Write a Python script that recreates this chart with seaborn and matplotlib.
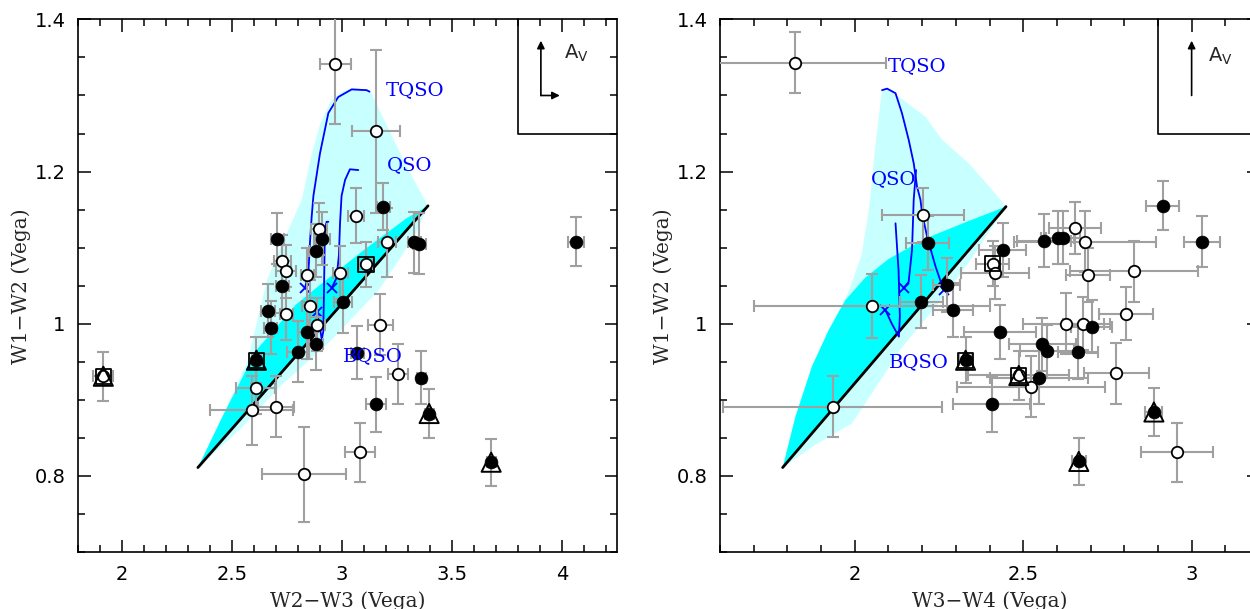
import numpy as np
import pandas as pd
import matplotlib
matplotlib.use("Agg")
import matplotlib.pyplot as plt
import seaborn as sns
from matplotlib.ticker import MultipleLocator, FuncFormatter

# ---------------- data: left panel (W2-W3 vs W1-W2) ----------------
L_open_x = [2.969, 3.155, 3.064, 2.896, 3.205, 2.729, 2.747, 2.842, 2.993, 2.853, 2.747,
            2.887, 3.175, 3.253, 2.607, 2.589, 2.700, 3.082, 2.827, 3.109, 1.915]
L_open_y = [1.341, 1.253, 1.142, 1.125, 1.107, 1.082, 1.069, 1.064, 1.067, 1.023, 1.013,
            0.999, 0.999, 0.934, 0.916, 0.886, 0.891, 0.831, 0.802, 1.078, 0.931]
L_open_xerr = [0.071, 0.109, 0.035, 0.035, 0.040, 0.040, 0.045, 0.030, 0.035, 0.035, 0.030,
               0.035, 0.055, 0.045, 0.090, 0.190, 0.080, 0.070, 0.190, 0.030, 0.045]
L_open_yerr = [0.079, 0.107, 0.036, 0.034, 0.045, 0.035, 0.035, 0.035, 0.035, 0.035, 0.035,
               0.035, 0.040, 0.040, 0.035, 0.045, 0.040, 0.039, 0.062, 0.030, 0.032]

L_fill_x = [3.187, 2.705, 2.909, 2.882, 3.329, 3.351, 4.065, 2.729, 2.664, 2.676, 3.005,
            2.840, 2.882, 2.800, 3.069, 3.360, 3.156, 2.611, 3.396, 3.678]
L_fill_y = [1.154, 1.112, 1.112, 1.096, 1.107, 1.105, 1.108, 1.049, 1.017, 0.995, 1.028,
            0.989, 0.974, 0.963, 0.962, 0.929, 0.894, 0.952, 0.882, 0.818]
L_fill_xerr = [0.030, 0.030, 0.035, 0.030, 0.030, 0.030, 0.036, 0.030, 0.030, 0.030, 0.040,
               0.040, 0.030, 0.050, 0.030, 0.020, 0.045, 0.020, 0.020, 0.020]
L_fill_yerr = [0.031, 0.034, 0.035, 0.035, 0.040, 0.040, 0.032, 0.035, 0.035, 0.035, 0.040,
               0.035, 0.035, 0.040, 0.035, 0.035, 0.036, 0.030, 0.032, 0.031]

L_square_x = [1.915, 2.611, 3.109]
L_square_y = [0.931, 0.952, 1.078]
L_tri_x = [1.915, 2.611, 3.396, 3.678]
L_tri_y = [0.931, 0.952, 0.882, 0.818]

# model tracks (left)
L_tqso_x = [2.832, 2.847, 2.855, 2.862, 2.870, 2.900, 2.938, 2.983, 3.044, 3.112, 3.125]
L_tqso_y = [1.047, 1.066, 1.110, 1.140, 1.168, 1.224, 1.277, 1.298, 1.308, 1.307, 1.305]
L_qso_x = [2.953, 2.975, 2.986, 2.991, 2.998, 3.014, 3.036, 3.074]
L_qso_y = [1.047, 1.060, 1.090, 1.132, 1.168, 1.189, 1.203, 1.202]
L_bqso_x = [2.885, 2.898, 2.908, 2.915, 2.918, 2.921, 2.923, 2.930, 2.938]
L_bqso_y = [1.016, 0.998, 0.979, 0.990, 1.040, 1.100, 1.125, 1.134, 1.134]
L_zero_x = [2.832, 2.953, 2.885]
L_zero_y = [1.047, 1.047, 1.016]

# model envelopes (left)
L_line_x = [2.345, 3.391]
L_line_y = [0.811, 1.155]
L_dark_x = [2.345, 2.46, 2.61, 2.79, 2.87, 3.10, 3.29, 3.391]
L_dark_y = [0.811, 0.880, 0.965, 1.025, 1.044, 1.097, 1.138, 1.155]
L_light_x = [2.345, 2.46, 2.57, 2.66, 2.72, 2.817, 2.86, 2.90, 2.95, 3.00, 3.05, 3.127, 3.286, 3.391]
L_light_y = [0.811, 0.880, 0.950, 1.058, 1.100, 1.163, 1.220, 1.262, 1.293, 1.305, 1.310, 1.307, 1.211, 1.155]
L_low_x = [2.345, 2.54, 2.72, 2.94, 3.17, 3.33, 3.391]
L_low_y = [0.811, 0.862, 0.918, 0.975, 1.045, 1.115, 1.155]

# ---------------- data: right panel (W3-W4 vs W1-W2) ----------------
R_open_x = [1.822, 2.202, 2.653, 2.683, 2.409, 2.416, 2.692, 2.828, 2.050, 2.804, 2.628,
            2.679, 2.776, 2.523, 1.935, 2.956, 2.487]
R_open_y = [1.343, 1.143, 1.126, 1.108, 1.079, 1.067, 1.064, 1.069, 1.023, 1.013, 1.000,
            1.000, 0.935, 0.917, 0.891, 0.831, 0.932]
R_open_xerr = [0.270, 0.122, 0.077, 0.210, 0.050, 0.100, 0.065, 0.190, 0.350, 0.080, 0.130,
               0.060, 0.096, 0.220, 0.325, 0.107, 0.150]
R_open_yerr = [0.040, 0.036, 0.034, 0.040, 0.030, 0.035, 0.035, 0.040, 0.042, 0.035, 0.040,
               0.035, 0.040, 0.040, 0.040, 0.039, 0.032]

R_fill_x = [2.914, 2.561, 2.602, 2.618, 2.216, 2.439, 3.031, 2.273, 2.198, 2.291, 2.432,
            2.703, 2.557, 2.571, 2.662, 2.546, 2.406, 2.329, 2.888, 2.665]
R_fill_y = [1.155, 1.109, 1.113, 1.113, 1.106, 1.097, 1.108, 1.051, 1.029, 1.018, 0.989,
            0.996, 0.973, 0.964, 0.963, 0.929, 0.894, 0.952, 0.884, 0.819]
R_fill_xerr = [0.050, 0.080, 0.050, 0.050, 0.065, 0.070, 0.053, 0.040, 0.065, 0.060, 0.107,
               0.060, 0.100, 0.080, 0.060, 0.146, 0.113, 0.020, 0.025, 0.020]
R_fill_yerr = [0.032, 0.035, 0.035, 0.035, 0.035, 0.035, 0.034, 0.035, 0.035, 0.035, 0.035,
               0.035, 0.035, 0.035, 0.035, 0.035, 0.036, 0.030, 0.032, 0.031]

R_square_x = [2.487, 2.329, 2.409]
R_square_y = [0.932, 0.952, 1.079]
R_tri_x = [2.487, 2.329, 2.888, 2.665]
R_tri_y = [0.932, 0.952, 0.884, 0.819]

R_tqso_x = [2.264, 2.240, 2.215, 2.200, 2.195, 2.185, 2.175, 2.160, 2.140, 2.121, 2.096, 2.081]
R_tqso_y = [1.044, 1.075, 1.114, 1.145, 1.163, 1.180, 1.211, 1.242, 1.277, 1.303, 1.309, 1.307]
R_qso_x = [2.145, 2.160, 2.170, 2.175, 2.182]
R_qso_y = [1.047, 1.055, 1.097, 1.163, 1.202]
R_bqso_x = [2.091, 2.110, 2.131, 2.134, 2.130, 2.121]
R_bqso_y = [1.018, 1.000, 0.983, 1.010, 1.070, 1.132]
R_zero_x = [2.264, 2.145, 2.091]
R_zero_y = [1.044, 1.047, 1.018]

R_line_x = [1.786, 2.449]
R_line_y = [0.811, 1.154]
R_dark_x = [1.786, 1.824, 1.873, 1.923, 1.972, 2.03, 2.10, 2.21, 2.338, 2.449]
R_dark_y = [0.811, 0.878, 0.944, 0.992, 1.031, 1.060, 1.085, 1.112, 1.135, 1.154]
R_light_x = [1.786, 1.824, 1.873, 1.923, 1.98, 2.02, 2.042, 2.061, 2.081, 2.096, 2.21, 2.259, 2.338, 2.40, 2.449]
R_light_y = [0.811, 0.878, 0.944, 0.992, 1.040, 1.090, 1.150, 1.233, 1.308, 1.310, 1.272, 1.242, 1.211, 1.180, 1.154]
R_low_x = [1.786, 1.88, 1.992, 2.071, 2.137, 2.232, 2.338, 2.449]
R_low_y = [0.811, 0.840, 0.869, 0.922, 0.967, 1.018, 1.080, 1.154]

# ---------------- style ----------------
sns.set_style("ticks")
plt.rcParams['font.family'] = ['DejaVu Sans']
plt.rcParams['mathtext.fontset'] = 'dejavusans'

DARK = '#00ffff'
LIGHT = '#c8ffff'
ERR = '#a0a0a0'
SERIF = ['DejaVu Serif']

fig = plt.figure(figsize=(12.5, 6.09), dpi=100)
axL = fig.add_axes([78 / 1250, 57 / 609, 539 / 1250, 532.6 / 609])
axR = fig.add_axes([720 / 1250, 57 / 609, 539 / 1250, 532.6 / 609])


def panel(ax, d, xlim, xlabel, labels, av):
    ax.fill(d['light_x'] + d['line_x'][::-1], d['light_y'] + d['line_y'][::-1],
            color=LIGHT, lw=0, zorder=1)
    ax.fill(d['low_x'] + d['line_x'][::-1], d['low_y'] + d['line_y'][::-1],
            color=LIGHT, lw=0, zorder=1)
    ax.fill(d['dark_x'] + d['line_x'][::-1], d['dark_y'] + d['line_y'][::-1],
            color=DARK, lw=0, zorder=1.5)
    sns.lineplot(x=d['line_x'], y=d['line_y'], ax=ax, color='black', lw=2.0,
                 sort=False, zorder=2)
    for k in ('tqso', 'qso', 'bqso'):
        ax.plot(d[k + '_x'], d[k + '_y'], color='blue', lw=1.3, zorder=3)
    ax.plot(d['zero_x'], d['zero_y'], ls='none', marker='x', color='blue',
            ms=7, mew=1.3, zorder=3)

    ax.errorbar(d['open_x'], d['open_y'], xerr=d['open_xerr'], yerr=d['open_yerr'],
                fmt='none', ecolor=ERR, elinewidth=1.5, capsize=4, capthick=1.5, zorder=4)
    ax.errorbar(d['fill_x'], d['fill_y'], xerr=d['fill_xerr'], yerr=d['fill_yerr'],
                fmt='none', ecolor=ERR, elinewidth=1.5, capsize=4, capthick=1.5, zorder=4)

    dfo = pd.DataFrame({'x': d['open_x'], 'y': d['open_y']})
    dff = pd.DataFrame({'x': d['fill_x'], 'y': d['fill_y']})
    sns.scatterplot(data=dfo, x='x', y='y', ax=ax, marker='o', s=68,
                    facecolor='white', edgecolor='black', linewidth=1.3, zorder=5)
    sns.scatterplot(data=dff, x='x', y='y', ax=ax, marker='o', s=85,
                    color='black', edgecolor='black', linewidth=0.5, zorder=5)
    sns.scatterplot(x=d['sq_x'], y=d['sq_y'], ax=ax, marker='s', s=120,
                    facecolor='none', edgecolor='black', linewidth=1.3, zorder=6)
    sns.scatterplot(x=d['tri_x'], y=d['tri_y'], ax=ax, marker='^', s=190,
                    facecolor='none', edgecolor='black', linewidth=1.4, zorder=6)

    for txt, (tx, ty) in labels.items():
        ax.text(tx, ty, txt, color='blue', family=SERIF, fontsize=14,
                ha='left', va='center', zorder=7)

    # A_V reddening inset
    bx0, by0 = av['box']
    ax.plot([bx0, bx0, xlim[1]], [1.4, by0, by0], color='black', lw=1.2,
            clip_on=False, zorder=7)
    ax0, ay0, ay1 = av['vert']
    ax.annotate('', xy=(ax0, ay1), xytext=(ax0, ay0),
                arrowprops=dict(arrowstyle='-|>', lw=1.2, color='black',
                                mutation_scale=11, shrinkA=0, shrinkB=0), zorder=7)
    if av.get('horiz') is not None:
        hx1 = av['horiz']
        ax.annotate('', xy=(hx1, ay0), xytext=(ax0, ay0),
                    arrowprops=dict(arrowstyle='-|>', lw=1.2, color='black',
                                    mutation_scale=11, shrinkA=0, shrinkB=0), zorder=7)
    ax.text(av['txt'][0], av['txt'][1], r'A$_\mathrm{V}$', fontsize=14,
            ha='left', va='center', zorder=7)

    ax.set_xlim(*xlim)
    ax.set_ylim(0.7, 1.4)
    ax.xaxis.set_major_locator(MultipleLocator(0.5))
    ax.xaxis.set_minor_locator(MultipleLocator(0.1))
    ax.yaxis.set_major_locator(MultipleLocator(0.2))
    ax.yaxis.set_minor_locator(MultipleLocator(0.05))
    fmt = FuncFormatter(lambda v, p: '%g' % round(v, 3))
    ax.xaxis.set_major_formatter(fmt)
    ax.yaxis.set_major_formatter(fmt)
    ax.tick_params(which='both', direction='in', top=True, right=True,
                   width=1.1, colors='black', labelsize=14)
    ax.tick_params(which='major', length=9, pad=9)
    ax.tick_params(which='minor', length=5)
    for sp in ax.spines.values():
        sp.set_linewidth(1.2)
        sp.set_color('black')
        sp.set_visible(True)
    ax.set_xlabel(xlabel, family=SERIF, fontsize=14.5)
    ax.set_ylabel('W1\u2212W2 (Vega)', family=SERIF, fontsize=14.5)
    ax.xaxis.set_label_coords(0.5, -0.092)
    ax.xaxis.label.set_va('center')
    ax.yaxis.set_label_coords(-0.105, 0.5)
    ax.yaxis.label.set_va('center')


dL = dict(open_x=L_open_x, open_y=L_open_y, open_xerr=L_open_xerr, open_yerr=L_open_yerr,
          fill_x=L_fill_x, fill_y=L_fill_y, fill_xerr=L_fill_xerr, fill_yerr=L_fill_yerr,
          sq_x=L_square_x, sq_y=L_square_y, tri_x=L_tri_x, tri_y=L_tri_y,
          tqso_x=L_tqso_x, tqso_y=L_tqso_y, qso_x=L_qso_x, qso_y=L_qso_y,
          bqso_x=L_bqso_x, bqso_y=L_bqso_y, zero_x=L_zero_x, zero_y=L_zero_y,
          line_x=L_line_x, line_y=L_line_y, dark_x=L_dark_x, dark_y=L_dark_y,
          light_x=L_light_x, light_y=L_light_y, low_x=L_low_x, low_y=L_low_y)
dR = dict(open_x=R_open_x, open_y=R_open_y, open_xerr=R_open_xerr, open_yerr=R_open_yerr,
          fill_x=R_fill_x, fill_y=R_fill_y, fill_xerr=R_fill_xerr, fill_yerr=R_fill_yerr,
          sq_x=R_square_x, sq_y=R_square_y, tri_x=R_tri_x, tri_y=R_tri_y,
          tqso_x=R_tqso_x, tqso_y=R_tqso_y, qso_x=R_qso_x, qso_y=R_qso_y,
          bqso_x=R_bqso_x, bqso_y=R_bqso_y, zero_x=R_zero_x, zero_y=R_zero_y,
          line_x=R_line_x, line_y=R_line_y, dark_x=R_dark_x, dark_y=R_dark_y,
          light_x=R_light_x, light_y=R_light_y, low_x=R_low_x, low_y=R_low_y)

panel(axL, dL, (1.8, 4.25), 'W2\u2212W3 (Vega)',
      {'TQSO': (3.20, 1.307), 'QSO': (3.205, 1.208), 'BQSO': (3.005, 0.958)},
      {'box': (3.8, 1.25), 'vert': (3.904, 1.300, 1.372), 'horiz': 3.99, 'txt': (4.01, 1.355)})
panel(axR, dR, (1.6, 3.2), 'W3\u2212W4 (Vega)',
      {'TQSO': (2.099, 1.339), 'QSO': (2.048, 1.190), 'BQSO': (2.100, 0.949)},
      {'box': (2.9, 1.25), 'vert': (3.0, 1.300, 1.372), 'horiz': None, 'txt': (3.05, 1.352)})

fig.savefig('out.png', dpi=100)
